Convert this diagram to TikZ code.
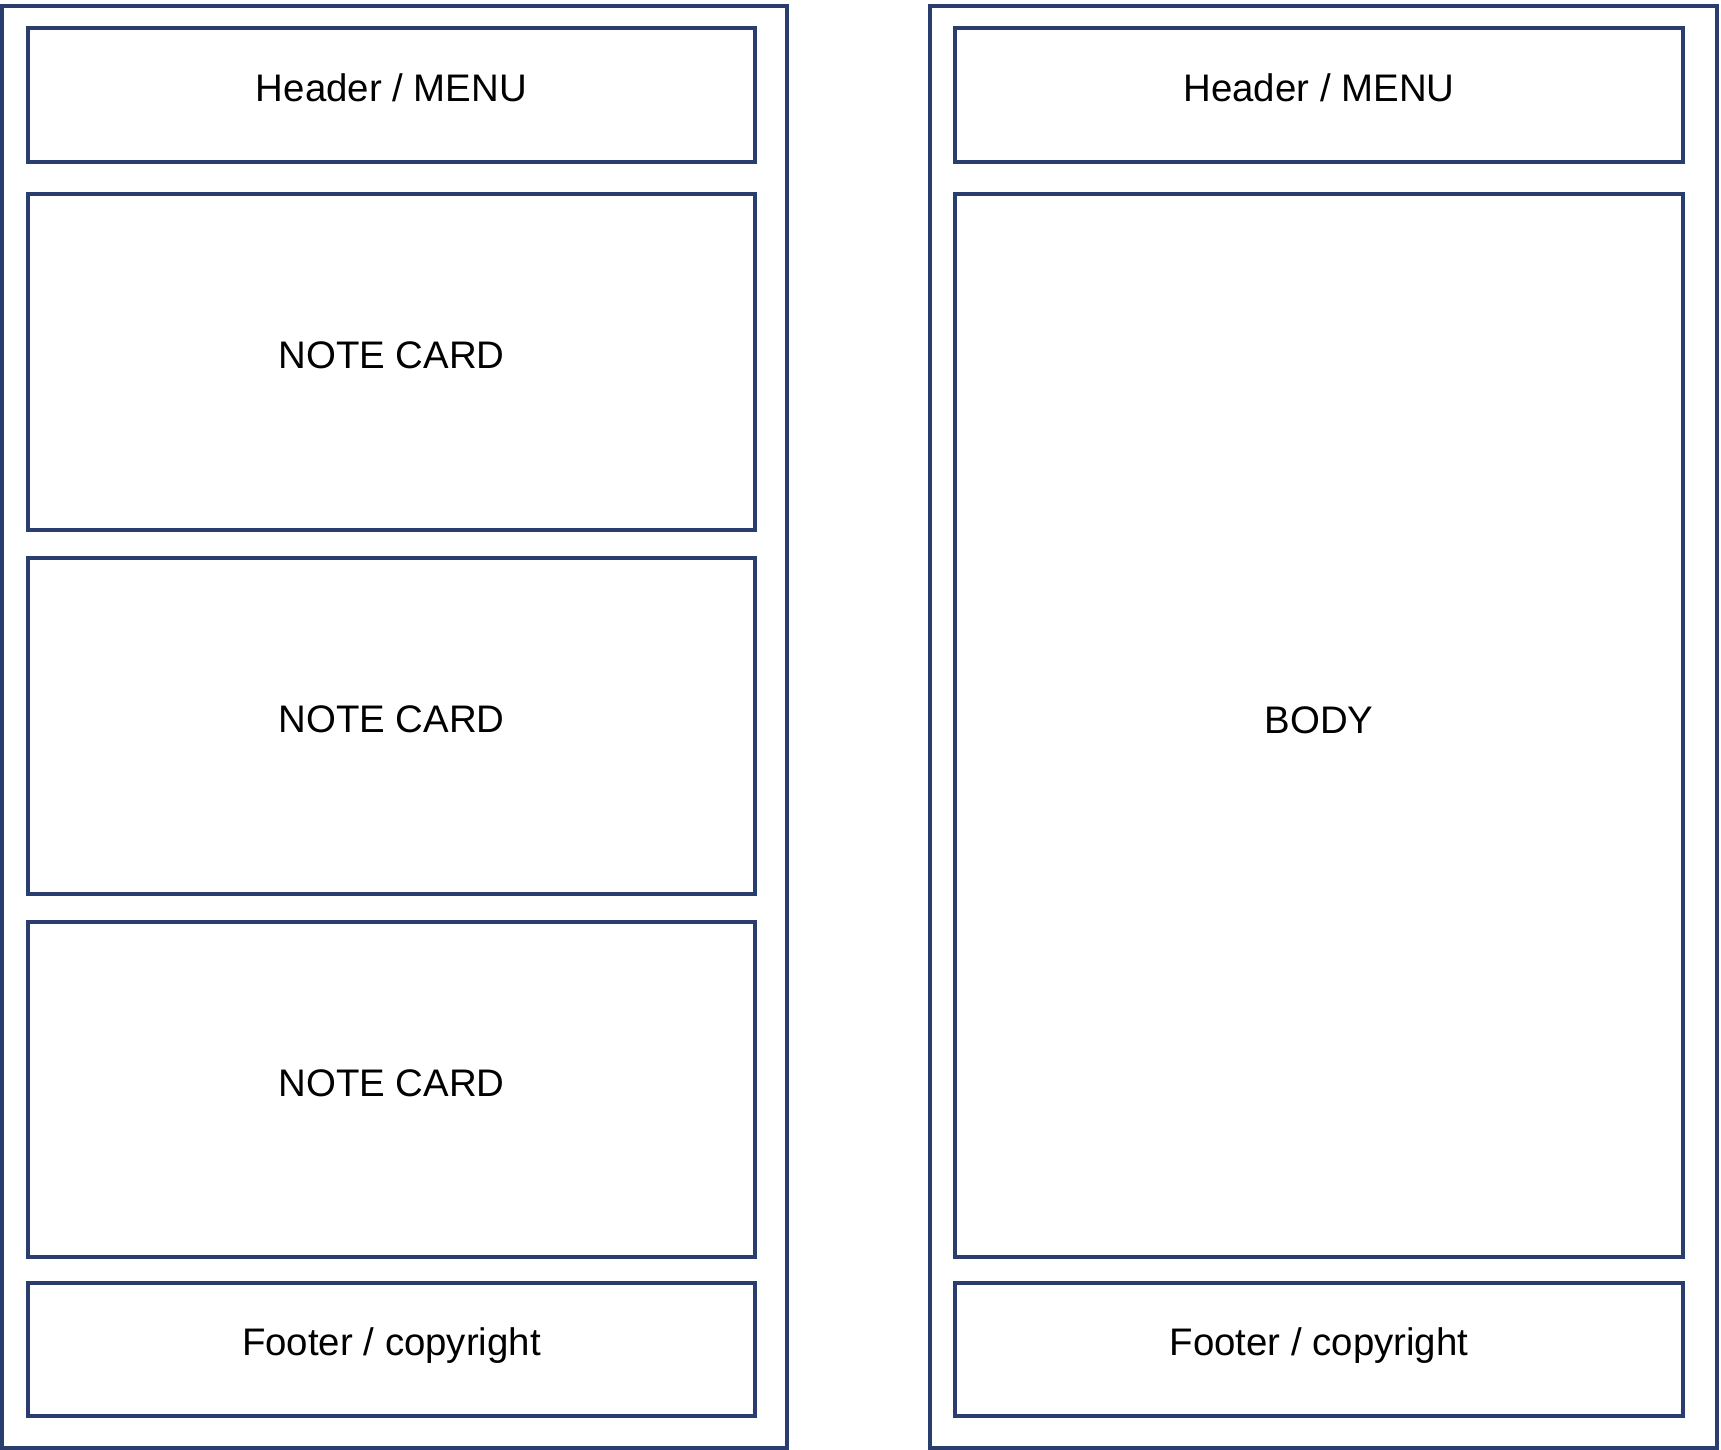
\documentclass[tikz,border=0pt]{standalone}
\usepackage{fontspec}
\setmainfont{Liberation Sans}
\definecolor{navy}{RGB}{41,61,110}
\begin{document}
\begin{tikzpicture}[x=0.5pt,y=-0.5pt,
  box/.style={draw=navy, line width=2.1pt, fill=none, inner sep=0pt, outer sep=0pt},
  lbl/.style={anchor=base, text=black, font=\fontsize{19.2pt}{22pt}\selectfont, inner sep=0pt}]
\useasboundingbox (0,0) rectangle (1721,1450);
% outer frames
\draw[box] (2,6) rectangle (787,1448);
\draw[box] (930,6) rectangle (1717,1448);
% left column
\draw[box] (28,28) rectangle (755,162);
\draw[box] (28,194) rectangle (755,530);
\draw[box] (28,558) rectangle (755,894);
\draw[box] (28,922) rectangle (755,1257);
\draw[box] (28,1283) rectangle (755,1416);
\node[lbl] (lh) at (391.5,102) {Header / MENU};
\node[lbl] (lc1) at (391.5,368) {NOTE CARD};
\node[lbl] (lc2) at (391.5,732) {NOTE CARD};
\node[lbl] (lc3) at (391.5,1096) {NOTE CARD};
\node[lbl] (lf) at (391.5,1355) {Footer / copyright};
% right column
\draw[box] (955,28) rectangle (1683,162);
\draw[box] (955,194) rectangle (1683,1257);
\draw[box] (955,1283) rectangle (1683,1416);
\node[lbl] (rh) at (1319,102) {Header / MENU};
\node[lbl] (rb) at (1319,733) {BODY};
\node[lbl] (rf) at (1319,1355) {Footer / copyright};
\end{tikzpicture}
\end{document}
